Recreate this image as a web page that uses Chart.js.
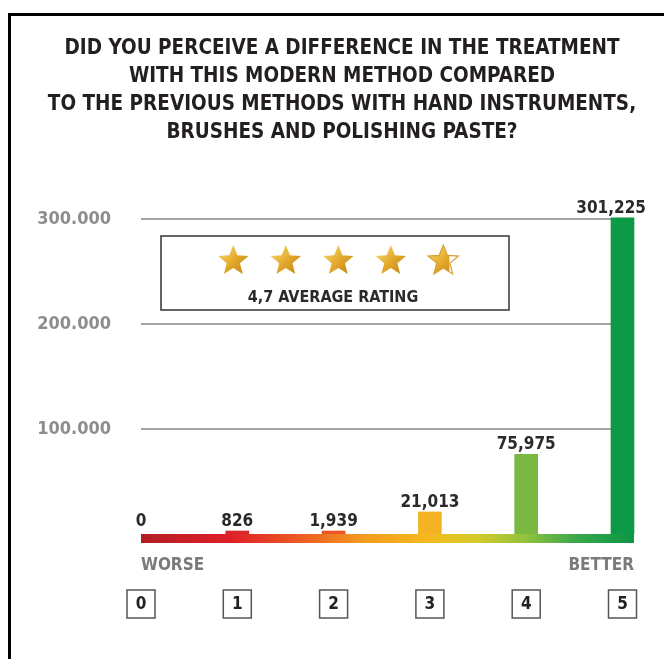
<!DOCTYPE html>
<html>
<head>
<meta charset="utf-8">
<script src="https://cdn.jsdelivr.net/npm/chart.js@4.4.1/dist/chart.umd.min.js"></script>
<style>
  html, body { margin: 0; padding: 0; background: #fff; }
  canvas { display: block; }
</style>
</head>
<body>
<canvas id="chart" width="664" height="659"></canvas>
<script>
// =========================================================================
// DATA
// =========================================================================
const categories = ['0', '1', '2', '3', '4', '5'];
const responses  = [0, 826, 1939, 21013, 75975, 301225];
const yTicks     = [100000, 200000, 300000];
const titleLines = [
    'DID YOU PERCEIVE A DIFFERENCE IN THE TREATMENT',
    'WITH THIS MODERN METHOD COMPARED',
    'TO THE PREVIOUS METHODS WITH HAND INSTRUMENTS,',
    'BRUSHES AND POLISHING PASTE?'
];
const scaleEnds  = ['WORSE', 'BETTER'];
const avgRating  = 4.7;
const ratingText = '4,7 AVERAGE RATING';

// =========================================================================
// STYLE
// =========================================================================
const FONT = "'DejaVu Sans Condensed', 'DejaVu Sans', sans-serif";
const barColors = ['rgba(0,0,0,0)', '#d9262b', '#ee5424', '#f5b323', '#7bb842', '#0d9a48'];
const ink  = '#2a2a2a';
const grey = '#8d8d8d';

const group = (v, sep) => String(v).replace(/\B(?=(\d{3})+(?!\d))/g, sep);

const starPath = (ctx, cx, cy, R, r) => {
    ctx.beginPath();
    for (let k = 0; k < 10; k++) {
        const rad = k % 2 ? r : R;
        const a = -Math.PI / 2 + k * Math.PI / 5;
        const px = cx + rad * Math.cos(a), py = cy + rad * Math.sin(a);
        k ? ctx.lineTo(px, py) : ctx.moveTo(px, py);
    }
    ctx.closePath();
};

// frame + white page
const framePlugin = {
    id: 'frame',
    beforeDraw(chart) {
        const { ctx, width, height } = chart;
        ctx.save();
        ctx.fillStyle = '#fff';
        ctx.fillRect(0, 0, width, height);
        ctx.fillStyle = '#000';
        ctx.fillRect(8, 13, 3, height - 13);
        ctx.fillRect(8, 13, width - 8, 3);
        ctx.restore();
    }
};

// gradient strip, end labels, boxed categories, value labels, rating box
const decorPlugin = {
    id: 'decor',
    afterDatasetsDraw(chart) {
        const { ctx, chartArea: a, scales: { x } } = chart;
        ctx.save();

        // gradient strip under the bars
        const x0 = a.left, x1 = a.right + 11.5;
        const g = ctx.createLinearGradient(x0, 0, x1, 0);
        g.addColorStop(0,    '#b21d24');
        g.addColorStop(0.18, '#e01f27');
        g.addColorStop(0.32, '#ec5a25');
        g.addColorStop(0.45, '#f39a1f');
        g.addColorStop(0.58, '#f6b91c');
        g.addColorStop(0.68, '#d3cb2a');
        g.addColorStop(0.78, '#93c13e');
        g.addColorStop(0.88, '#3aa84a');
        g.addColorStop(1,    '#0b9547');
        ctx.fillStyle = g;
        ctx.fillRect(x0, a.bottom, x1 - x0, 9);

        // WORSE / BETTER
        ctx.font = `bold 17px ${FONT}`;
        ctx.fillStyle = '#7a7a7a';
        ctx.textBaseline = 'middle';
        ctx.textAlign = 'left';
        ctx.fillText(scaleEnds[0], x0, a.bottom + 31.5);
        ctx.textAlign = 'right';
        ctx.fillText(scaleEnds[1], x1, a.bottom + 31.5);

        // boxes round the category labels
        ctx.strokeStyle = '#555';
        ctx.lineWidth = 1.5;
        categories.forEach((c, i) => {
            const px = x.getPixelForValue(i);
            ctx.strokeRect(px - 14, a.bottom + 56, 28, 28);
        });

        // value labels above bars (kept inside the page on the right)
        const meta = chart.getDatasetMeta(0);
        ctx.font = `bold 17px ${FONT}`;
        ctx.fillStyle = ink;
        ctx.textAlign = 'right';
        ctx.textBaseline = 'alphabetic';
        meta.data.forEach((bar, i) => {
            const txt = group(responses[i], ',');
            const w = ctx.measureText(txt).width;
            ctx.fillText(txt, Math.min(bar.x + w / 2, 646), bar.y - 5);
        });

        // rating box
        ctx.strokeStyle = '#333';
        ctx.lineWidth = 1.5;
        ctx.strokeRect(161, 236, 348, 74);
        const R = 16, r = 7, cy = 261;
        for (let s = 0; s < 5; s++) {
            const cx = 233.3 + 52.5 * s;
            const sg = ctx.createLinearGradient(cx - R, cy - R, cx + R, cy + R);
            sg.addColorStop(0, '#fbe27c');
            sg.addColorStop(0.5, '#e3a92b');
            sg.addColorStop(1, '#b97c10');
            const frac = Math.max(0, Math.min(1, avgRating - s));
            const w = 2 * R * 0.951;
            ctx.save();
            starPath(ctx, cx, cy, R, r);
            ctx.clip();
            ctx.fillStyle = '#fff';
            ctx.fillRect(cx - R, cy - R, 2 * R, 2 * R);
            ctx.fillStyle = sg;
            ctx.fillRect(cx - w / 2, cy - R, w * frac, 2 * R);
            ctx.restore();
            if (frac < 1) {
                starPath(ctx, cx, cy, R, r);
                ctx.strokeStyle = '#d9a030';
                ctx.lineWidth = 1.2;
                ctx.stroke();
            }
        }
        ctx.font = `bold 16px ${FONT}`;
        ctx.fillStyle = ink;
        ctx.textAlign = 'center';
        ctx.fillText(ratingText, 333, 302);

        ctx.restore();
    }
};

// =========================================================================
// CHART
// =========================================================================
new Chart(document.getElementById('chart'), {
    type: 'bar',
    data: {
        labels: categories,
        datasets: [{
            data: responses,
            backgroundColor: barColors,
            borderWidth: 0,
            barThickness: 23,
            minBarLength: 3,
            clip: false
        }]
    },
    options: {
        responsive: false,
        animation: false,
        devicePixelRatio: 1,
        layout: { padding: { left: 30, right: 10, top: 0, bottom: 0 } },
        scales: {
            x: {
                offset: false,
                grid: { display: false, drawTicks: false },
                border: { display: false },
                ticks: {
                    padding: 60, maxRotation: 0, autoSkip: false,
                    color: '#222', font: { family: FONT, size: 17, weight: 'bold' }
                },
                afterFit: (s) => { s.height = 125; s.paddingLeft = 0; s.paddingRight = 0; }
            },
            y: {
                min: 0, max: 330000,
                grid: { color: '#a5a5a5', lineWidth: 2, drawTicks: false },
                border: { display: false },
                ticks: {
                    padding: 30, color: grey,
                    font: { family: FONT, size: 18, weight: 'bold' },
                    callback: (v) => group(v, '.')
                },
                afterBuildTicks: (s) => { s.ticks = yTicks.map(v => ({ value: v })); },
                afterFit: (s) => { s.width = 111; s.paddingTop = 0; s.paddingBottom = 0; }
            },
            // empty right gutter so the title centres like the original
            gutter: {
                position: 'right',
                grid: { display: false, drawTicks: false },
                border: { display: false },
                ticks: { display: false },
                afterFit: (s) => { s.width = 31.5; s.paddingTop = 0; s.paddingBottom = 0; }
            }
        },
        plugins: {
            legend: { display: false },
            tooltip: { enabled: false },
            title: {
                display: true,
                text: titleLines,
                color: '#231f20',
                font: { family: FONT, size: 20.5, weight: 'bold', lineHeight: '28px' },
                padding: { top: 35, bottom: 40.5 }
            }
        }
    },
    plugins: [framePlugin, decorPlugin]
});
</script>
</body>
</html>
